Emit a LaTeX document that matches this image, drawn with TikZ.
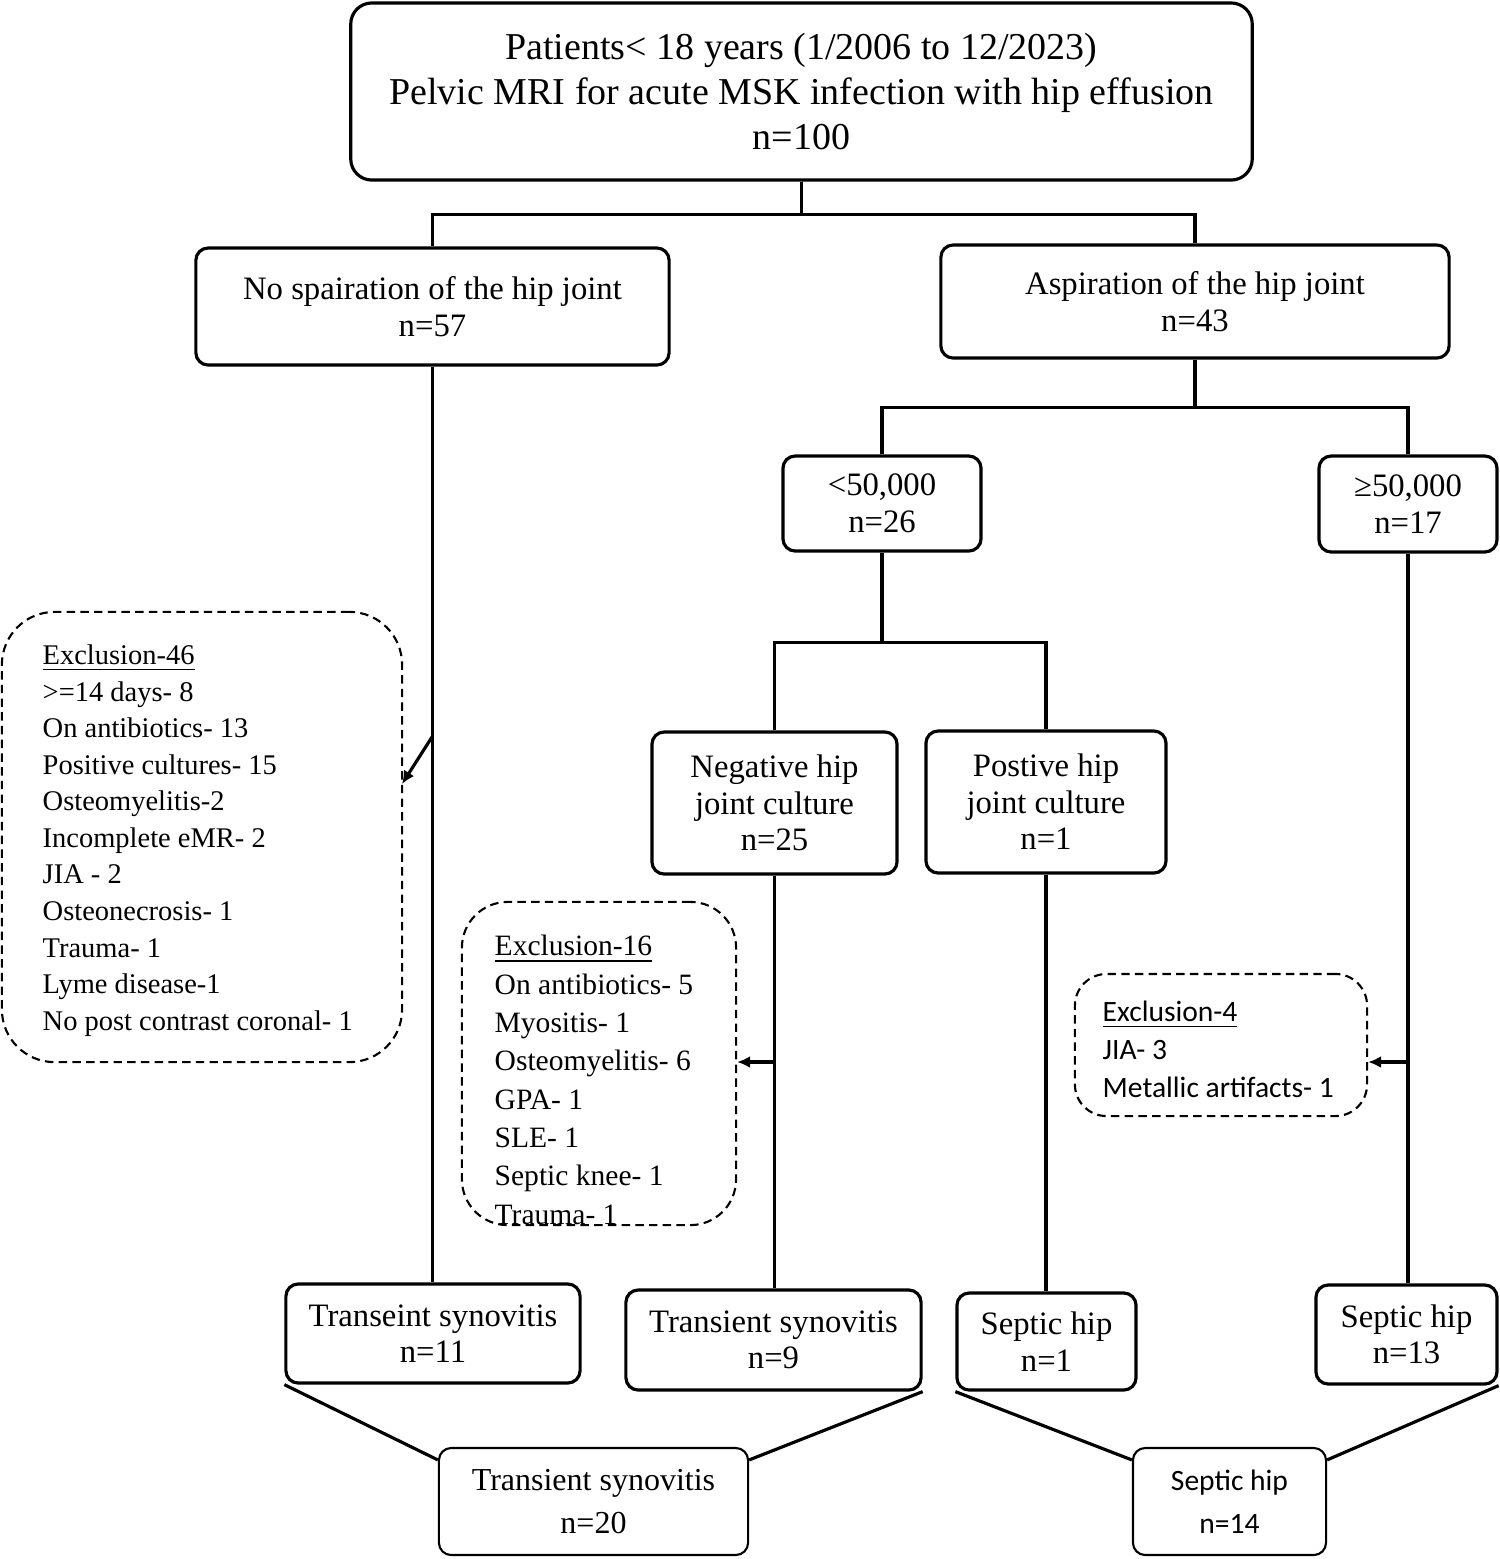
\documentclass[tikz,border=0pt]{standalone}
\usepackage{fontspec}
\setmainfont{Liberation Serif}
\newfontfamily\calib{Carlito}
\usepackage{tikz}
\usetikzlibrary{calc,arrows.meta}

\begin{document}
\begin{tikzpicture}[x=0.01cm, y=-0.01cm,
		box/.style={draw, line width=0.9pt, rounded corners=3.5pt, align=center, inner sep=0pt, font={\fontsize{9.3}{10.4}\selectfont}},
		exbox/.style={draw, line width=0.6pt, dash pattern=on 2.4pt off 1.5pt, inner sep=0pt},
		extxt/.style={anchor=west, align=left, inner sep=0pt},
		link/.style={line width=0.9pt},
		arr/.style={line width=0.9pt, -{Latex[length=1.3mm,width=1.2mm]}}]
		%%%%% START %%%%%
		
		\useasboundingbox (0,0) rectangle (1500,1559);
		
		\node[box, rounded corners=6pt, minimum width=9.01cm, minimum height=1.77cm, font={\fontsize{10.8}{12.8}\selectfont}] (top) at (801.5,91.5) {Patients< 18 years (1/2006 to 12/2023)\\Pelvic MRI for acute MSK infection with hip effusion\\n=100};
		
		\node[box, minimum width=4.73cm, minimum height=1.17cm] (noasp) at (432.5,306.5) {No spairation of the hip joint\\n=57};
		\node[box, minimum width=5.08cm, minimum height=1.13cm] (asp) at (1195,301.5) {Aspiration of the hip joint\\n=43};
		
		\node[box, minimum width=1.98cm, minimum height=0.95cm] (lt50) at (882,503.5) {<50,000\\n=26};
		\node[box, minimum width=1.78cm, minimum height=0.96cm] (ge50) at (1408,504) {≥50,000\\n=17};
		
		\node[box, minimum width=2.45cm, minimum height=1.42cm] (neg) at (774.5,803) {Negative hip\\joint culture\\n=25};
		\node[box, minimum width=2.40cm, minimum height=1.42cm] (pos) at (1046,802) {Postive hip\\joint culture\\n=1};
		
		\node[box, minimum width=2.94cm, minimum height=0.99cm] (ts11) at (433,1333.5) {Transeint synovitis\\n=11};
		\node[box, minimum width=2.95cm, minimum height=1.00cm] (ts9) at (773.5,1340) {Transient synovitis\\n=9};
		\node[box, minimum width=1.79cm, minimum height=0.97cm] (sh1) at (1046.5,1341.5) {Septic hip\\n=1};
		\node[box, minimum width=1.81cm, minimum height=0.99cm] (sh13) at (1406.5,1334.5) {Septic hip\\n=13};
		
		\node[box, line width=0.6pt, minimum width=3.09cm, minimum height=1.07cm, font={\fontsize{9.1}{12.2}\selectfont}] (ts20) at (593.5,1501.5) {Transient synovitis\\n=20};
		\node[box, line width=0.6pt, minimum width=1.93cm, minimum height=1.07cm, font={\calib\fontsize{8.4}{12.2}\selectfont}] (sh14) at (1229.5,1501.5) {Septic hip\\n=14};
		
		% exclusion boxes
		\node[exbox, rounded corners=15pt, minimum width=4.00cm, minimum height=4.50cm] (ex46) at (202,837) {};
		\node[extxt, font={\fontsize{8.1}{10.4}\selectfont}] (ex46txt) at (42,840.5) {\underline{Exclusion-46}\\>=14 days- 8\\On antibiotics- 13\\Positive cultures- 15\\Osteomyelitis-2\\Incomplete eMR- 2\\JIA - 2\\Osteonecrosis- 1\\Trauma- 1\\Lyme disease-1\\No post contrast coronal- 1};
		
		\node[exbox, rounded corners=13pt, minimum width=2.74cm, minimum height=3.23cm] (ex16) at (599,1063.5) {};
		\node[extxt, font={\fontsize{8.4}{10.9}\selectfont}] (ex16txt) at (494,1080) {\underline{Exclusion-16}\\On antibiotics- 5\\Myositis- 1\\Osteomyelitis- 6\\GPA- 1\\SLE- 1\\Septic knee- 1\\Trauma- 1};
		
		\node[exbox, rounded corners=9pt, minimum width=2.92cm, minimum height=1.42cm] (ex4) at (1221,1045) {};
		\node[extxt, font={\calib\fontsize{8.4}{10.8}\selectfont}] (ex4txt) at (1102,1049) {\underline{Exclusion-4}\\JIA- 3\\Metallic artifacts- 1};
		
		% tree lines
		\draw[link] (top.south) -- ++(0,33) -| (noasp.north);
		\draw[link] (top.south) -- ++(0,33) -| (asp.north);
		\draw[link] (asp.south) -- ++(0,48) -| (lt50.north);
		\draw[link] (asp.south) -- ++(0,48) -| (ge50.north);
		\draw[link] (lt50.south) -- ++(0,90) -| (neg.north);
		\draw[link] (lt50.south) -- ++(0,90) -| (pos.north);
		
		\draw[link] (noasp.south) -- (noasp.south |- ts11.north);
		\draw[link] (neg.south) -- (neg.south |- ts9.north);
		\draw[link] (pos.south) -- (pos.south |- sh1.north);
		\draw[link] (ge50.south) -- (ge50.south |- sh13.north);
		
		% arrows to exclusions
		\coordinate (a46) at (432,737);
		\coordinate (t46) at (402,784);
		\draw[arr] (a46) -- (t46);
		\coordinate (a16) at (774.5,1062);
		\draw[arr] (a16) -- (a16 -| ex16.east);
		\coordinate (a4) at (1408,1062);
		\draw[arr] (a4) -- (a4 -| ex4.east);
		
		% merge lines
		\draw[link] (ts11.south west) -- ($(ts20.north west)+(0,13)$);
		\draw[link] (ts9.south east) -- ($(ts20.north east)+(0,13)$);
		\draw[link] (sh1.south west) -- ($(sh14.north west)+(0,13)$);
		\draw[link] (sh13.south east) -- ($(sh14.north east)+(0,13)$);
		
		%%%%% END %%%%%
	\end{tikzpicture}
\end{document}
